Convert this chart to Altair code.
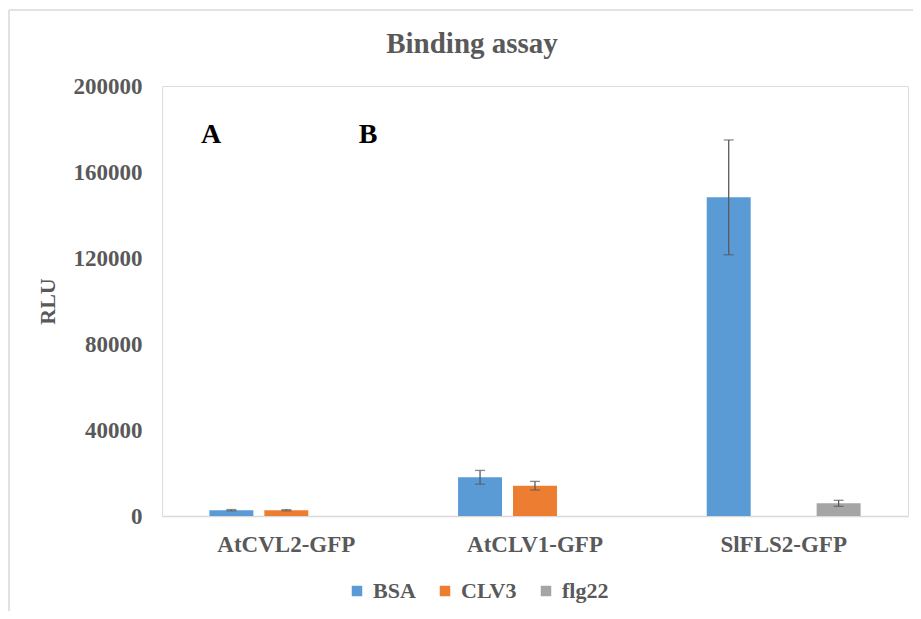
import altair as alt
import pandas as pd

categories = ["AtCVL2-GFP", "AtCLV1-GFP", "SlFLS2-GFP"]
series = ["BSA", "CLV3", "flg22"]
colors = ["#5B9BD5", "#ED7D31", "#A5A5A5"]

bsa_values = [2700, 18000, 148200]
bsa_errors = [300, 3200, 26700]
clv3_values = [2700, 14100, None]
clv3_errors = [300, 2000, None]
flg22_values = [None, None, 5900]
flg22_errors = [None, None, 1400]

chart_title = "Binding assay"
letters = ["A", "B"]
letter_x = [49, 206]

rows = []
for s, vals, errs in [("BSA", bsa_values, bsa_errors),
                      ("CLV3", clv3_values, clv3_errors),
                      ("flg22", flg22_values, flg22_errors)]:
    for c, v, e in zip(categories, vals, errs):
        if v is None:
            continue
        rows.append({"category": c, "series": s, "value": v,
                     "lo": v - e, "hi": v + e})
df = pd.DataFrame(rows)

W, H = 746, 430
FONT = "Liberation Serif, Times New Roman, serif"
GRAY = "#595959"

x_enc = alt.X("category:N", sort=categories,
              scale=alt.Scale(paddingInner=0.337, paddingOuter=0.1685),
              axis=alt.Axis(title=None, labelAngle=0, ticks=False,
                            domainColor="#D9D9D9", domainWidth=1.3,
                            labelFont=FONT, labelFontSize=23, labelFontWeight="bold",
                            labelColor=GRAY, labelPadding=17))
xo_enc = alt.XOffset("series:N", scale=alt.Scale(domain=series, paddingInner=0.2, paddingOuter=0.1))

base = alt.Chart(df)

bars = base.mark_bar().encode(
    x=x_enc,
    xOffset=xo_enc,
    y=alt.Y("value:Q", scale=alt.Scale(domain=[0, 200000], nice=False),
            axis=alt.Axis(title="RLU", values=[0, 40000, 80000, 120000, 160000, 200000],
                          format="d", grid=False, domain=False, ticks=False,
                          labelFont=FONT, labelFontSize=23, labelFontWeight="bold",
                          labelColor=GRAY, labelPadding=20,
                          titleFont=FONT, titleFontSize=22, titleFontWeight="bold",
                          titleColor=GRAY, titlePadding=14)),
    color=alt.Color("series:N", scale=alt.Scale(domain=series, range=colors),
                    legend=alt.Legend(title=None, orient="none", direction="horizontal",
                                      legendX=184, legendY=494,
                                      symbolType="square", symbolSize=110,
                                      symbolStrokeWidth=0,
                                      labelFont=FONT, labelFontSize=22, labelFontWeight="bold",
                                      labelColor=GRAY, labelOffset=5, columnPadding=18)),
)

err_rule = base.mark_rule(color="#5A5A5A", strokeWidth=1.3).encode(
    x=alt.X("category:N", sort=categories),
    xOffset=alt.XOffset("series:N"),
    y="lo:Q", y2="hi:Q",
)
cap_hi = base.mark_tick(color="#5A5A5A", thickness=1.3, size=10, orient="horizontal").encode(
    x=alt.X("category:N", sort=categories),
    xOffset=alt.XOffset("series:N"),
    y="hi:Q",
)
cap_lo = base.mark_tick(color="#5A5A5A", thickness=1.3, size=10, orient="horizontal").encode(
    x=alt.X("category:N", sort=categories),
    xOffset=alt.XOffset("series:N"),
    y="lo:Q",
)

letters_df = pd.DataFrame({"letter": letters, "px": letter_x})
letter_marks = alt.Chart(letters_df).mark_text(
    font=FONT, fontSize=28, fontWeight="bold", color="#000000", baseline="alphabetic"
).encode(text="letter:N", x=alt.X("px:Q", scale=None), y=alt.value(57))

title_df = pd.DataFrame({"t": [chart_title]})
title_mark = alt.Chart(title_df).mark_text(
    font=FONT, fontSize=29, fontWeight="bold", color=GRAY, baseline="alphabetic", align="center"
).encode(text="t:N", x=alt.value(310), y=alt.value(-33))

border_df = pd.DataFrame({"k": [0]})
border_left = alt.Chart(border_df).mark_rule(color="#D9D9D9", strokeWidth=1.5).encode(
    x=alt.value(-153), y=alt.value(-76), y2=alt.value(H + 120))
border_top = alt.Chart(border_df).mark_rule(color="#D9D9D9", strokeWidth=1.5).encode(
    x=alt.value(-153), x2=alt.value(W + 20), y=alt.value(-76))

chart = alt.layer(border_left, border_top, bars, err_rule, cap_hi, cap_lo,
                  letter_marks, title_mark).properties(
    width=W, height=H,
    autosize=alt.AutoSizeParams(type="none"),
    padding={"left": 154, "top": 78, "right": 5, "bottom": 95},
).configure_view(stroke=None).configure(background="white")

chart.save("out.html", embed_options={"renderer": "svg", "actions": False})
